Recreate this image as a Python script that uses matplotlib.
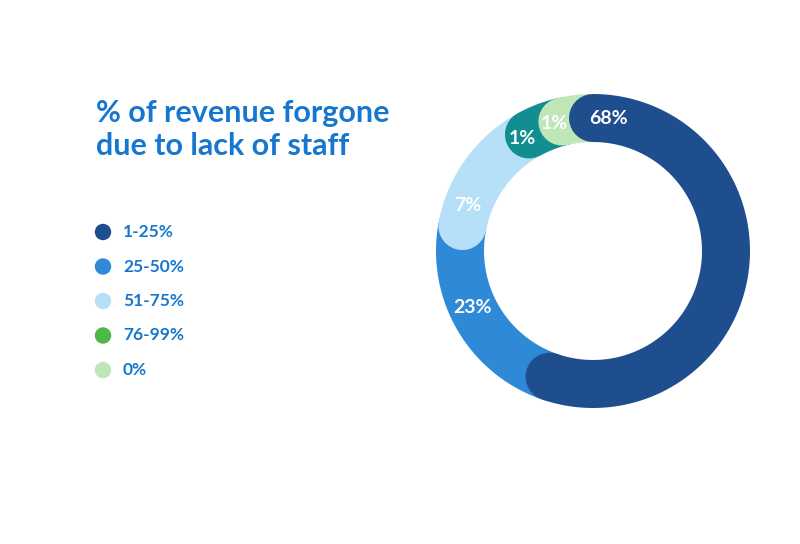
import numpy as np
import matplotlib
matplotlib.use("Agg")
import matplotlib.pyplot as plt

# legend entries
legend_labels = ["1-25%", "25-50%", "51-75%", "76-99%", "0%"]
legend_colors = ["#1f4e8f", "#2e89d6", "#b5e0f8", "#4db848", "#bee6b6"]

# ring slices, clockwise from 12 o'clock
slice_labels = ["68%", "23%", "7%", "1%", "1%"]
slice_colors = ["#1f4e8f", "#2e89d6", "#b5e0f8", "#128e91", "#bee6b6"]
# share of the ring each slice takes in the drawing
arc_shares = [55.3, 22.7, 14.0, 4.3, 3.7]
# where each label sits, degrees clockwise from top
label_theta = [6.5, 244.8, 290, 327.7, 343]

title_lines = ["% of revenue forgone", "due to lack of staff"]
title_color = "#1577cf"
font = "Lato"

fig = plt.figure(figsize=(8, 5.44), dpi=100)
fig.patch.set_facecolor("white")

# donut
ax = fig.add_axes([0.54125, 0.2445, 0.4, 0.5882], projection="polar")
ax.set_theta_zero_location("N")
ax.set_theta_direction(-1)
ax.set_ylim(0, 1)
ax.axis("off")

r_mid = 133 / 160
ring_w = 48 * 72 / 100  # points

edges = np.concatenate([[0], np.cumsum(arc_shares)]) / np.sum(arc_shares) * 2 * np.pi
# drawing order so each slice's rounded start sits over the one before it
order = [1, 2, 3, 4, 0]
for i in order:
    th = np.linspace(edges[i], edges[i + 1], 200)
    ax.plot(th, np.full_like(th, r_mid), color=slice_colors[i], lw=ring_w,
            solid_capstyle="round")

for lab, t in zip(slice_labels, label_theta):
    ax.text(np.deg2rad(t), r_mid, lab, color="white", fontsize=14,
            fontweight="bold", family=font, ha="center", va="center")

# title and legend
ov = fig.add_axes([0, 0, 1, 1])
ov.set_xlim(0, 800)
ov.set_ylim(544, 0)
ov.axis("off")

for line, y in zip(title_lines, [122, 155]):
    ov.text(96, y, line, color=title_color, fontsize=22, fontweight="bold",
            family=font, ha="left", va="baseline")

ys = 232 + 34.5 * np.arange(len(legend_labels))
ov.scatter(np.full(len(ys), 103), ys, s=140, c=legend_colors, edgecolors="none")
for lab, y in zip(legend_labels, ys):
    ov.text(123, y, lab, color=title_color, fontsize=12.5, fontweight="bold",
            family=font, ha="left", va="center")

fig.savefig("out.png", dpi=100)
